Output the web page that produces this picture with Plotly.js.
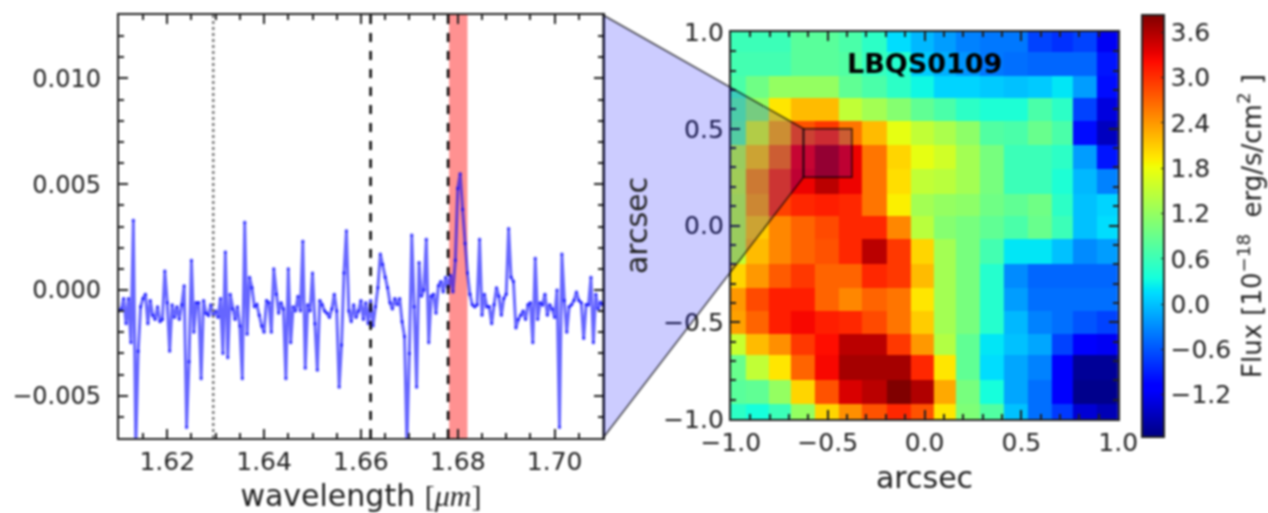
<!DOCTYPE html>
<html>
<head>
<meta charset="utf-8">
<script src="https://cdn.plot.ly/plotly-3.0.1.min.js"></script>
<style>
html,body{margin:0;padding:0;background:#fff;overflow:hidden}
#chart{width:1268px;height:513px;filter:blur(0.8px)}
</style>
</head>
<body>
<div id="chart"></div>
<script>
// Spectrum: wavelength in micron
const wavelength = [
1.6100,1.6105,1.6110,1.6115,1.6120,1.6125,1.6130,1.6135,1.6140,1.6145,
1.6150,1.6155,1.6160,1.6165,1.6170,1.6175,1.6180,1.6185,1.6190,1.6195,
1.6200,1.6205,1.6210,1.6215,1.6220,1.6225,1.6230,1.6235,1.6240,1.6245,
1.6250,1.6255,1.6260,1.6265,1.6270,1.6275,1.6280,1.6285,1.6290,1.6295,
1.6300,1.6305,1.6310,1.6315,1.6320,1.6325,1.6330,1.6335,1.6340,1.6345,
1.6350,1.6355,1.6360,1.6365,1.6370,1.6375,1.6380,1.6385,1.6390,1.6395,
1.6400,1.6405,1.6410,1.6415,1.6420,1.6425,1.6430,1.6435,1.6440,1.6445,
1.6450,1.6455,1.6460,1.6465,1.6470,1.6475,1.6480,1.6485,1.6490,1.6495,
1.6500,1.6505,1.6510,1.6515,1.6520,1.6525,1.6530,1.6535,1.6540,1.6545,
1.6550,1.6555,1.6560,1.6565,1.6570,1.6575,1.6580,1.6585,1.6590,1.6595,
1.6600,1.6605,1.6610,1.6615,1.6620,1.6625,1.6630,1.6635,1.6640,1.6645,
1.6650,1.6655,1.6660,1.6665,1.6670,1.6675,1.6680,1.6685,1.6690,1.6695,
1.6700,1.6705,1.6710,1.6715,1.6720,1.6725,1.6730,1.6735,1.6740,1.6745,
1.6750,1.6755,1.6760,1.6765,1.6770,1.6775,1.6780,1.6785,1.6790,1.6795,
1.6800,1.6805,1.6810,1.6815,1.6820,1.6825,1.6830,1.6835,1.6840,1.6845,
1.6850,1.6855,1.6860,1.6865,1.6870,1.6875,1.6880,1.6885,1.6890,1.6895,
1.6900,1.6905,1.6910,1.6915,1.6920,1.6925,1.6930,1.6935,1.6940,1.6945,
1.6950,1.6955,1.6960,1.6965,1.6970,1.6975,1.6980,1.6985,1.6990,1.6995,
1.7000,1.7005,1.7010,1.7015,1.7020,1.7025,1.7030,1.7035,1.7040,1.7045,
1.7050,1.7055,1.7060,1.7065,1.7070,1.7075,1.7080,1.7085,1.7090,1.7095,
1.7100];
// Flux (1e-3 units)
const fluxMilli = [
-1.0,-0.9,-0.4,-1.6,-0.4,-2.5,3.3,-7.5,-2.9,-0.8,
-0.4,-0.2,-1.6,-0.5,-1.2,-1.4,-0.8,-1.5,-1.4,0.9,
-0.6,-2.9,-0.7,-1.3,-0.8,-1.4,-0.7,0.2,-6.5,-3.4,
1.4,-2.0,-0.6,-0.6,-4.2,-0.5,-1.1,-1.2,-0.7,-1.2,
-1.0,-1.3,-0.4,-3.0,1.8,-3.2,-0.2,-0.9,-1.4,-0.8,
-1.7,-4.2,3.2,-2.1,0.6,0.1,-0.8,-0.7,-1.2,-1.7,
-2.0,-0.5,-0.6,-2.0,1.0,-0.2,-1.1,-0.6,-0.9,-4.2,
1.0,-2.5,-0.8,-1.0,-0.3,-1.0,2.3,-3.7,-0.7,-1.0,
0.8,-1.6,-3.8,-0.5,-0.7,-1.0,-1.1,-1.3,-0.9,-0.2,
-1.0,-4.6,-2.6,0.8,2.8,-1.0,-1.5,-0.7,-1.3,-1.0,
-0.5,-1.4,-0.6,-1.6,-0.5,-1.7,-0.8,0.1,1.7,1.2,
0.6,0.1,-0.6,-0.9,-0.4,-0.7,-0.4,-1.5,-2.2,-7.4,
-3.0,2.6,-0.8,-4.6,1.3,-0.3,0.0,2.4,-2.5,-0.3,
-0.2,-1.1,0.2,0.4,-0.1,0.6,0.1,0.7,-0.1,1.4,
4.8,5.5,3.8,2.2,0.8,-0.2,-0.7,-0.8,-0.7,2.4,
-1.2,-0.2,-0.8,-0.8,-1.6,-0.7,0.1,-0.3,-1.2,-0.4,
-0.2,2.9,0.6,0.4,-1.8,-1.4,-1.2,-1.0,-1.4,-0.7,
-0.6,-2.5,1.5,-1.4,-0.6,-0.7,-0.2,-1.2,-0.7,-0.9,
-1.3,0.0,-6.5,1.7,-0.5,-2.0,-0.8,-0.7,-0.5,-0.1,
-0.5,-0.6,-2.3,-0.7,-0.7,0.6,-2.5,-0.2,-0.9,-0.6,
-0.7];
const flux = fluxMilli.map(v => v / 1000);

// Marked wavelengths
const dottedLine = 1.6295;
const dashedLines = [1.662, 1.678];
const bandRange = [1.6782, 1.682];

// Flux map (rows listed from top to bottom)
const mapXEdges = [-1,-.923,-.804,-.691,-.567,-.443,-.325,-.196,-.072,.046,.160,.284,.407,.531,.655,.768,.892,1];
const mapYEdges = [1,.895,.775,.66,.54,.415,.29,.165,.05,-.07,-.2,-.325,-.44,-.56,-.67,-.80,-.92,-1];
const mapFlux = [
[.6,.6,.6,.8,.8,.7,.5,.15,-.05,-.2,-.35,-.4,-.4,-.7,-.8,-.7,-1.2],
[.65,.65,.65,.8,.8,.75,.55,.45,.05,-.1,-.25,-.4,-.45,-.5,-.5,-.5,-.95],
[.7,.95,1.2,1.2,1.2,.85,.7,.5,.3,.1,.1,.05,0,.05,.2,-.2,-1],
[.85,1.2,1.95,2.2,2.2,1.5,1.3,1.1,.85,.7,.5,.4,.4,.7,.5,-.7,-1.3],
[.9,1.7,2.25,2.8,2.95,2.6,2.2,1.75,1.5,1.35,1.15,.75,.7,.9,.7,-1,-1.45],
[1.5,2.1,2.6,3.25,3.55,3.3,2.6,2.05,1.75,1.6,1.3,1,.6,.6,.5,-.2,-.95],
[1.55,2.4,2.9,3.3,3.55,3.3,2.6,2,1.5,1.45,1.3,1,.6,.6,.4,-.05,-.35],
[1.5,2.3,2.9,3.05,3.1,3.05,2.6,1.9,1.3,1.2,1.15,.95,.85,.95,.5,0,.1],
[1.5,2.1,2.5,2.7,2.85,3.05,3.05,2.5,1.45,1.1,1,.85,.7,.9,.6,0,.15],
[1.5,2.2,2.5,2.7,2.8,3.05,3.55,2.95,2.05,1.3,1,.65,.2,.2,0,-.3,-.2],
[2.05,2.4,2.75,2.95,2.7,2.7,3.05,2.95,2.2,1.3,1,.45,-.3,-.5,-.5,-.5,-.5],
[2.4,2.85,3.1,3.1,2.7,2.5,2.7,2.6,1.95,1.3,1,.45,-.2,-.45,-.45,-.45,-.45],
[2.35,2.7,3.1,3.25,3.1,3.05,2.85,2.6,2.1,1.3,1,.45,-.05,-.35,-.45,-.6,-.7],
[1.55,2.2,2.45,2.95,3.2,3.55,3.55,2.95,2.4,1.4,.85,.2,0,-.15,-.7,-1.15,-1.2],
[.9,1.5,1.95,2.7,3.25,3.65,3.65,3.65,3.05,1.95,.85,.15,-.15,-.35,-1.15,-1.65,-1.65],
[.8,.85,1.2,2.05,2.8,3.4,3.55,3.83,3.6,2.3,1,.35,-.15,-.45,-1.15,-1.7,-1.7],
[.5,.35,.6,1.2,2.05,2.45,2.8,3.05,2.8,1.95,1.05,.75,0,-.45,-.75,-1.35,-1.5]
];
const colorRange = [-1.76, 3.83];
const colorTicks = [-1.2,-0.6,0.0,0.6,1.2,1.8,2.4,3.0,3.6];
const boxX = [-0.625, -0.375];
const boxY = [0.25, 0.5];
const label = 'LBQS0109';

// Page layout (pixels)
const W = 1268, H = 513;
const leftPx = {x0:119, x1:604, y0:15, y1:438};
const rightPx = {x0:732, x1:1120, y0:32, y1:419};
const dom = p => ({x:[p.x0/W, p.x1/W], y:[1-p.y1/H, 1-p.y0/H]});
const dl = dom(leftPx), dr = dom(rightPx);

const jet = [
[0,'rgb(0,0,128)'],[.11,'rgb(0,0,255)'],[.125,'rgb(0,0,255)'],[.34,'rgb(0,219,255)'],
[.35,'rgb(0,229,247)'],[.375,'rgb(20,255,222)'],[.64,'rgb(240,255,8)'],[.65,'rgb(247,245,0)'],
[.66,'rgb(255,234,0)'],[.89,'rgb(255,10,0)'],[.91,'rgb(232,0,0)'],[1,'rgb(128,0,0)']];

const ink = '#222';
const font = {family:'DejaVu Sans', size:25, color:'#222'};
const titleFont = {family:'DejaVu Sans', size:30, color:'#222'};
const axisBase = {
  showline:true, linecolor:ink, linewidth:2, mirror:'allticks', ticks:'inside',
  tickcolor:ink, tickwidth:2, ticklen:9, showgrid:false, zeroline:false,
  tickfont:font, automargin:false
};
const minorTicks = d => ({dtick:d, ticks:'inside', ticklen:5, tickcolor:ink, tickwidth:2});

const xr = v => (v - (-1)) / 2 * (rightPx.x1-rightPx.x0) + rightPx.x0;
const yr = v => rightPx.y1 - (v - (-1)) / 2 * (rightPx.y1-rightPx.y0);
// connector between the spectrum panel's right edge and the selected box
const connector = `M ${leftPx.x1/W} ${1-leftPx.y0/H} L ${xr(boxX[0])/W} ${1-yr(boxY[1])/H} L ${xr(boxX[0])/W} ${1-yr(boxY[0])/H} L ${leftPx.x1/W} ${1-leftPx.y1/H} Z`;

const shapes = [
  {type:'rect', xref:'x', yref:'y domain', x0:bandRange[0], x1:bandRange[1], y0:0, y1:1, fillcolor:'rgba(255,0,0,0.43)', line:{width:0}, layer:'below'},
  {type:'line', xref:'x', yref:'y domain', x0:dottedLine, x1:dottedLine, y0:0, y1:1, line:{color:'#777', width:2.5, dash:'3px,3px'}},
  ...dashedLines.map(v => ({type:'line', xref:'x', yref:'y domain', x0:v, x1:v, y0:0, y1:1, line:{color:'#000', width:2.5, dash:'9px,9px'}})),
  {type:'path', xref:'paper', yref:'paper', path:connector, fillcolor:'rgba(0,0,255,0.2)', line:{color:'rgba(0,0,0,0.7)', width:1.5}, layer:'above'},
  {type:'rect', xref:'x2', yref:'y2', x0:boxX[0], x1:boxX[1], y0:boxY[0], y1:boxY[1], fillcolor:'rgba(0,0,255,0.2)', line:{color:'rgba(0,0,0,0.75)', width:1.5}, layer:'above'}
];

const traces = [
  {type:'scatter', mode:'lines+markers', x:wavelength, y:flux, xaxis:'x', yaxis:'y',
   line:{color:'rgba(0,0,255,0.6)', width:3}, marker:{color:'rgba(0,0,255,0.6)', size:3.5, line:{width:0}},
   hoverinfo:'skip', showlegend:false, cliponaxis:true},
  {type:'heatmap', x:mapXEdges, y:mapYEdges, z:mapFlux, xaxis:'x2', yaxis:'y2',
   colorscale:jet, zmin:colorRange[0], zmax:colorRange[1], zsmooth:false,
   colorbar:{
     x:1144/W, xanchor:'left', xref:'paper', y:1-226/H, yanchor:'middle', yref:'paper',
     thickness:22, thicknessmode:'pixels', len:422, lenmode:'pixels', xpad:0, ypad:0,
     outlinecolor:ink, outlinewidth:2, borderwidth:0,
     tickmode:'array', tickvals:colorTicks, tickformat:'.1f', ticks:'inside', ticklen:4, tickcolor:ink, tickfont:font,
     title:{text:'Flux [10<sup>−18</sup>  erg/s/cm<sup>2</sup> ]', side:'right', font:{...font, size:26}}
   }}
];

const layout = {
  width:W, height:H, margin:{l:0,r:0,t:0,b:0}, paper_bgcolor:'#fff', plot_bgcolor:'rgba(0,0,0,0)',
  showlegend:false, font,
  xaxis:{...axisBase, domain:dl.x, anchor:'y', range:[1.61,1.71], tickvals:[1.62,1.64,1.66,1.68,1.70], tickformat:'.2f',
    minor:minorTicks(0.005),
    title:{text:'wavelength <span style="font-family:\'Liberation Serif\'">[<i>μm</i>]</span>', font:titleFont, standoff:11}},
  yaxis:{...axisBase, domain:dl.y, anchor:'x', range:[-0.007,0.013], tickvals:[-0.005,0,0.005,0.010], tickformat:'.3f',
    tickfont:{...font, size:24}, ticklabelstandoff:11, minor:minorTicks(0.001)},
  xaxis2:{...axisBase, domain:dr.x, anchor:'y2', range:[-1,1], tickvals:[-1,-0.5,0,0.5,1], tickformat:'.1f',
    minor:minorTicks(0.1), title:{text:'arcsec', font:titleFont, standoff:11}},
  yaxis2:{...axisBase, domain:dr.y, anchor:'x2', range:[-1,1], tickvals:[-1,-0.5,0,0.5,1], tickformat:'.1f',
    minor:minorTicks(0.1), title:{text:'arcsec', font:titleFont, standoff:7}},
  shapes,
  annotations:[{xref:'x2', yref:'y2', x:0, y:0.835, text:'<b>'+label+'</b>', showarrow:false,
    font:{family:'DejaVu Sans', size:27, color:'#000'}, xanchor:'center', yanchor:'middle'}]
};
Plotly.newPlot('chart', traces, layout, {displayModeBar:false, staticPlot:true});
</script>
</body>
</html>
